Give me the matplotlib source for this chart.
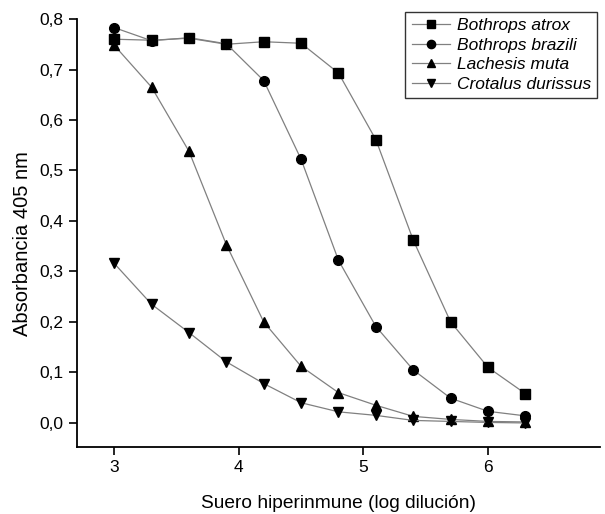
import numpy as np
import matplotlib.pyplot as plt
from matplotlib.ticker import FuncFormatter

# log dilution
x = [3.0, 3.3, 3.6, 3.9, 4.2, 4.5, 4.8, 5.1, 5.4, 5.7, 6.0, 6.3]

atrox = [0.760, 0.758, 0.762, 0.750, 0.755, 0.752, 0.693, 0.561, 0.362, 0.200, 0.110, 0.058]
brazili = [0.783, 0.757, 0.763, 0.751, 0.678, 0.522, 0.322, 0.191, 0.105, 0.049, 0.023, 0.014]
muta = [0.748, 0.665, 0.538, 0.353, 0.200, 0.112, 0.060, 0.035, 0.013, 0.007, 0.003, 0.002]
durissus = [0.316, 0.235, 0.179, 0.121, 0.078, 0.040, 0.022, 0.015, 0.005, 0.003, 0.001, 0.000]

names = ["Bothrops atrox", "Bothrops brazili", "Lachesis muta", "Crotalus durissus"]
markers = ["s", "o", "^", "v"]


def main():
    plt.rcParams["font.family"] = ["Liberation Sans", "DejaVu Sans"]
    fig = plt.figure(figsize=(6.05, 5.14), dpi=100)
    ax = fig.add_axes([0.127, 0.130, 0.865, 0.833])

    for y, name, m in zip([atrox, brazili, muta, durissus], names, markers):
        ax.plot(x, y, "-", color="#808080", lw=0.9, marker=m, ms=7,
                mfc="black", mec="black", label=name)

    ax.set_xlim(2.7, 6.9)
    ax.set_ylim(-0.048, 0.8)
    ax.set_xticks([3, 4, 5, 6])
    ax.set_yticks(np.arange(0, 0.81, 0.1))
    ax.yaxis.set_major_formatter(FuncFormatter(lambda v, p: f"{v:.1f}".replace(".", ",")))
    ax.spines["top"].set_visible(False)
    ax.spines["right"].set_visible(False)
    for s in ["left", "bottom"]:
        ax.spines[s].set_linewidth(1.3)
    ax.tick_params(direction="out", length=6, width=1.2, labelsize=12.5)

    ax.set_xlabel("Suero hiperinmune (log dilución)", fontsize=13.8, labelpad=14)
    ax.set_ylabel("Absorbancia 405 nm", fontsize=14.5)
    ax.yaxis.set_label_coords(-0.085, 0.475)

    leg = ax.legend(loc="upper right", bbox_to_anchor=(0.994, 1.016), borderaxespad=0,
                    prop={"style": "italic", "size": 12.5},
                    frameon=True, fancybox=False, edgecolor="black", handlelength=2.2,
                    borderpad=0.35, labelspacing=0.25, handletextpad=0.4, markerscale=0.85)
    leg.get_frame().set_linewidth(1.0)

    fig.savefig("out.png", dpi=100)


if __name__ == "__main__":
    main()
